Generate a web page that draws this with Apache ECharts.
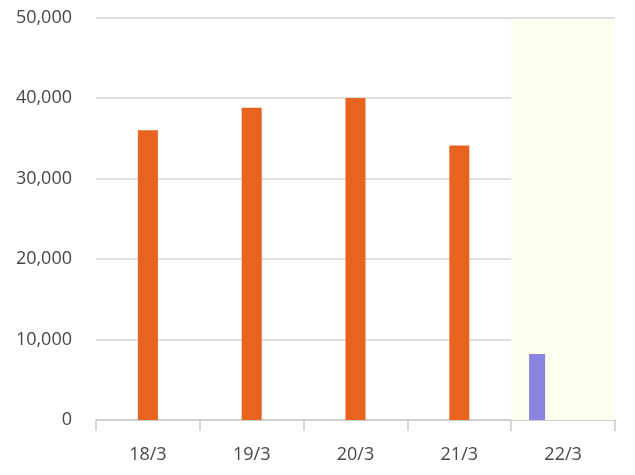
<!DOCTYPE html>
<html>
<head>
<meta charset="utf-8">
<script src="https://cdn.jsdelivr.net/npm/echarts@6/dist/echarts.min.js"></script>
<style>html,body{margin:0;padding:0;background:#fff;}#c{width:635px;height:475px;}</style>
</head>
<body>
<div id="c"></div>
<script>
const categories = ['18/3', '19/3', '20/3', '21/3', '22/3'];
const actualValues = [36000, 38800, 40000, 34100, '-'];
const currentValues = ['-', '-', '-', '-', 8200];
const highlightValues = ['-', '-', '-', '-', 49700];
const yTicks = [0, 10000, 20000, 30000, 40000, 50000];

const chart = echarts.init(document.getElementById('c'), null, {renderer: 'canvas'});
const labelFont = {fontFamily: 'Open Sans', fontSize: 18, color: '#484848'};
const hiddenX = {type: 'category', data: categories, show: false, boundaryGap: true};
chart.setOption({
  animation: false,
  grid: {left: 96, right: 20, top: 17.5, bottom: 55},
  xAxis: [
    {
      type: 'category', data: categories, boundaryGap: true,
      axisLine: {lineStyle: {color: '#ccc', width: 1.5}},
      axisTick: {show: true, length: 11, lineStyle: {color: '#ccc', width: 1.5}},
      axisLabel: Object.assign({margin: 26}, labelFont)
    },
    Object.assign({}, hiddenX),
    Object.assign({}, hiddenX)
  ],
  yAxis: {
    type: 'value', min: yTicks[0], max: yTicks[yTicks.length - 1], interval: 10000,
    axisLine: {show: false}, axisTick: {show: false},
    splitLine: {lineStyle: {color: '#d5d5d5', width: 1.5}},
    axisLabel: Object.assign({margin: 24, formatter: v => v.toLocaleString('en-US')}, labelFont)
  },
  series: [
    {type: 'bar', xAxisIndex: 2, data: highlightValues, barWidth: '100%', silent: true,
     itemStyle: {color: '#fefeee'}, z: 0},
    {type: 'bar', xAxisIndex: 0, data: actualValues, barWidth: 20,
     itemStyle: {color: '#e8641e'}, z: 3},
    {type: 'bar', xAxisIndex: 1, data: currentValues, barWidth: 16, barGap: '225%',
     itemStyle: {color: '#8984e0'}, z: 3},
    {type: 'bar', xAxisIndex: 1, data: ['-', '-', '-', '-', '-'], barWidth: 16, z: 3}
  ]
});
</script>
</body>
</html>
